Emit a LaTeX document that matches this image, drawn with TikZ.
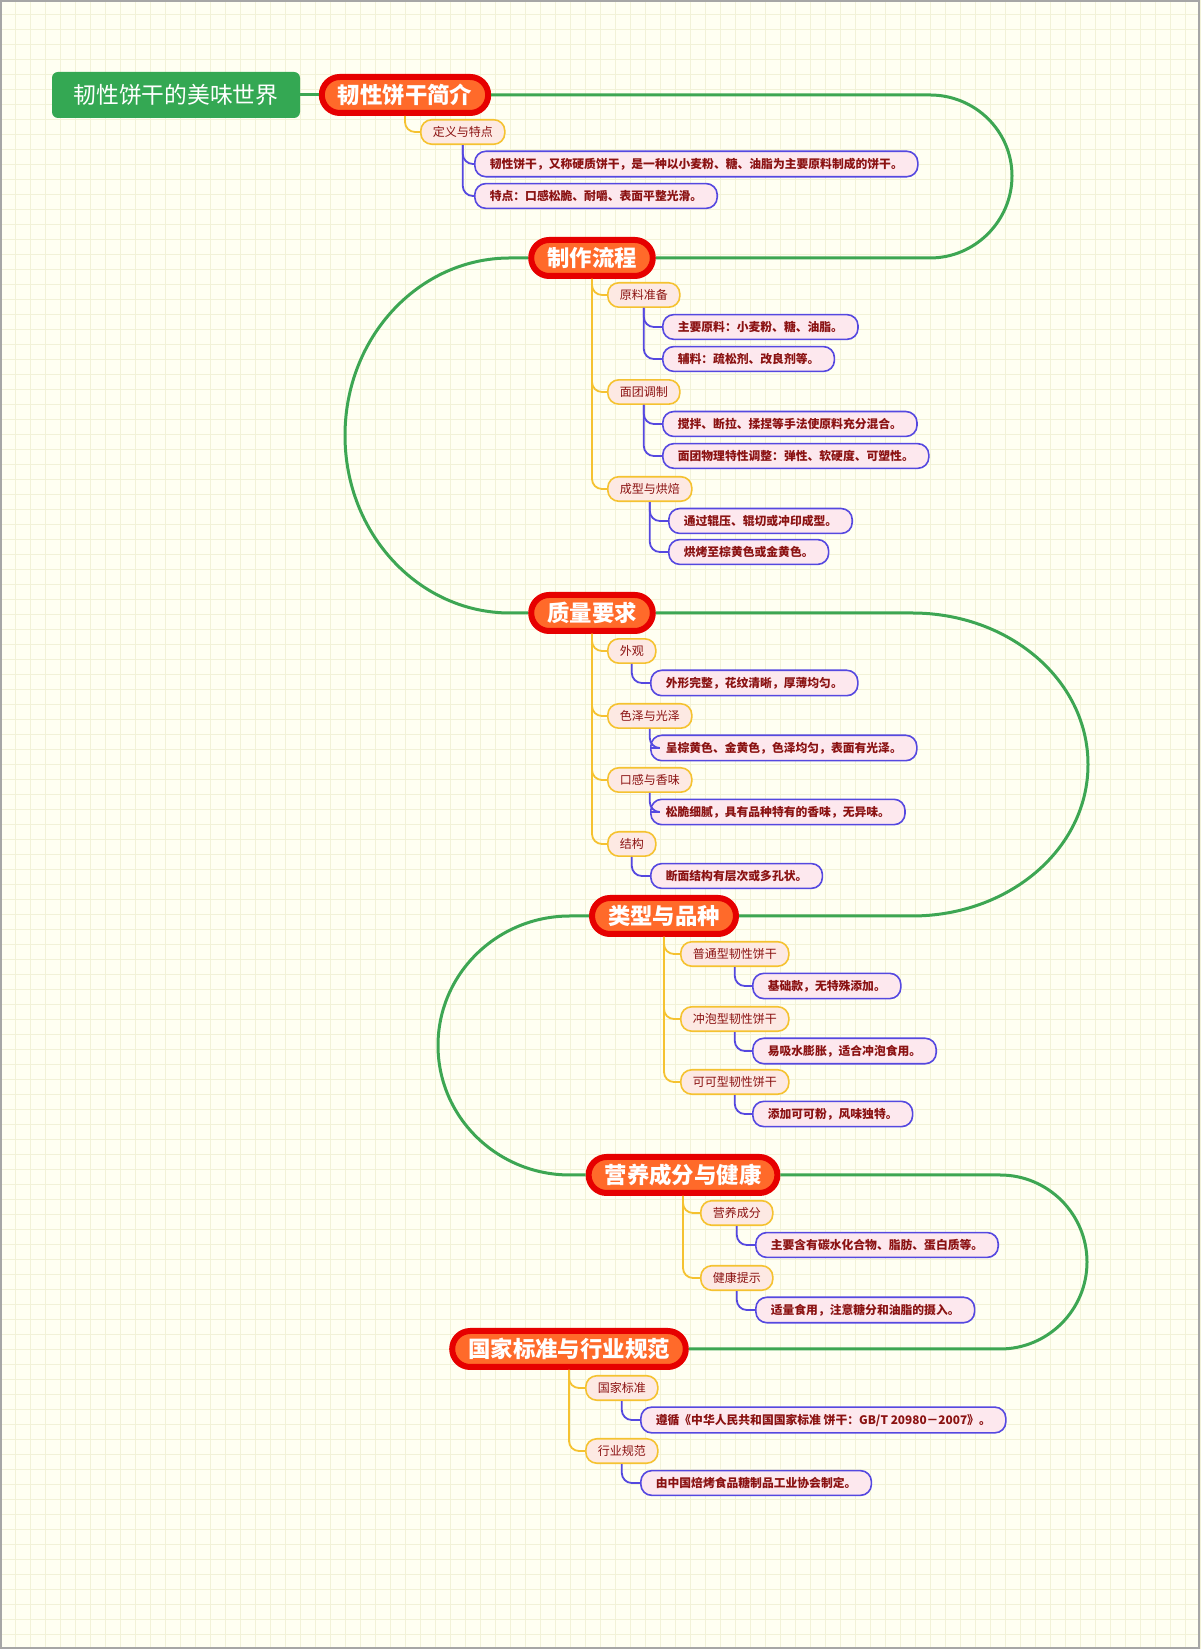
\documentclass[tikz,border=0pt]{standalone}
\usepackage{fontspec}
\setmainfont{Noto Sans CJK SC}
\usepackage{tikz}

\definecolor{bgcol}{HTML}{FFFFF2}
\definecolor{gridcol}{HTML}{F2F2D8}
\definecolor{rootgreen}{HTML}{34A853}
\definecolor{linkgreen}{HTML}{3DA653}
\definecolor{branchred}{HTML}{E60000}
\definecolor{branchorange}{HTML}{FF6A2A}
\definecolor{subyellow}{HTML}{F5C230}
\definecolor{subfill}{HTML}{FDE9E3}
\definecolor{leafblue}{HTML}{5548E0}
\definecolor{leaffill}{HTML}{FDE8EE}
\definecolor{textred}{HTML}{8B1212}

\tikzset{
  root/.style={fill=rootgreen, rounded corners=3pt, text=white, font=\fontsize{11.4}{13}\selectfont,
    minimum width=124pt, minimum height=23pt},
  branch/.style={fill=branchorange, draw=branchred, line width=3pt, rounded corners=9pt, text=white,
    font=\fontsize{11.2}{13}\selectfont\bfseries, inner xsep=8pt, minimum height=18pt},
  sub/.style={anchor=west, fill=subfill, draw=subyellow, line width=0.8pt, rounded corners=5.5pt,
    text=textred, font=\fontsize{6}{7}\selectfont, inner xsep=6pt, minimum height=11.5pt},
  leaf/.style={anchor=west, fill=leaffill, draw=leafblue, line width=0.8pt, rounded corners=5.5pt,
    text=textred, font=\fontsize{5.9}{7}\selectfont\bfseries, inner xsep=7.5pt, minimum height=12pt},
  glink/.style={draw=linkgreen, line width=1.5pt},
  ylink/.style={draw=subyellow, line width=0.9pt, rounded corners=5pt},
  blink/.style={draw=leafblue, line width=0.9pt, rounded corners=5pt}
}

\begin{document}
\begin{tikzpicture}[x=0.5pt, y=0.5pt]
  % Background and grid
  \fill[bgcol] (0,0) rectangle (1200,1649);
  \foreach \x in {15,30,...,1200} {
    \draw[gridcol, line width=0.4pt] (\x,0) -- (\x,1649);
  }
  \foreach \y in {15,30,...,1649} {
    \draw[gridcol, line width=0.4pt] (0,\y) -- (1200,\y);
  }
  \draw[gray!70, line width=0.8pt] (0.8,0.8) rectangle (1199.2,1648.2);

  \begin{scope}[yshift=824.5pt, y=-0.5pt]
  % Root and main branches
  \node[root] (root) at (176,95) {韧性饼干的美味世界};
  \node[branch] (b1) at (405,95) {韧性饼干简介};
  \node[branch] (b2) at (592,258) {制作流程};
  \node[branch] (b3) at (592,613) {质量要求};
  \node[branch] (b4) at (664,916) {类型与品种};
  \node[branch] (b5) at (683,1175) {营养成分与健康};
  \node[branch] (b6) at (569,1349) {国家标准与行业规范};

  % Green winding links
  \draw[glink] (root.east) -- (b1.west);
  \draw[glink] (b1.east) -- (930,95) .. controls (975,95) and (1012,131) .. (1012,176)
    .. controls (1012,221) and (975,258) .. (930,258) -- (b2.east);
  \draw[glink] (b2.west) -- (510,258) .. controls (419,258) and (345,337) .. (345,435.5)
    .. controls (345,534) and (419,613) .. (510,613) -- (b3.west);
  \draw[glink] (b3.east) -- (912,613) .. controls (1009,613) and (1088,680) .. (1088,764.5)
    .. controls (1088,849) and (1009,916) .. (912,916) -- (b4.east);
  \draw[glink] (b4.west) -- (570,916) .. controls (497,916) and (438,974) .. (438,1045.5)
    .. controls (438,1117) and (497,1175) .. (570,1175) -- (b5.west);
  \draw[glink] (b5.east) -- (1000,1175) .. controls (1048,1175) and (1087,1214) .. (1087,1262)
    .. controls (1087,1310) and (1048,1349) .. (1000,1349) -- (b6.east);

  % Branch 1
  \node[sub] (s11) at (420,132) {定义与特点};
  \node[leaf] (l111) at (474,164) {韧性饼干，又称硬质饼干，是一种以小麦粉、糖、油脂为主要原料制成的饼干。};
  \node[leaf] (l112) at (474,196) {特点：口感松脆、耐嚼、表面平整光滑。};

  % Branch 2
  \node[sub] (s21) at (607,295) {原料准备};
  \node[leaf] (l211) at (662,327) {主要原料：小麦粉、糖、油脂。};
  \node[leaf] (l212) at (662,359) {辅料：疏松剂、改良剂等。};
  \node[sub] (s22) at (607,392) {面团调制};
  \node[leaf] (l221) at (662,424) {搅拌、断拉、揉捏等手法使原料充分混合。};
  \node[leaf] (l222) at (662,456) {面团物理特性调整：弹性、软硬度、可塑性。};
  \node[sub] (s23) at (607,489) {成型与烘焙};
  \node[leaf] (l231) at (668,521) {通过辊压、辊切或冲印成型。};
  \node[leaf] (l232) at (668,552) {烘烤至棕黄色或金黄色。};

  % Branch 3
  \node[sub] (s31) at (607,651) {外观};
  \node[leaf] (l311) at (650,683) {外形完整，花纹清晰，厚薄均匀。};
  \node[sub] (s32) at (607,716) {色泽与光泽};
  \node[leaf] (l321) at (650,748) {呈棕黄色、金黄色，色泽均匀，表面有光泽。};
  \node[sub] (s33) at (607,780) {口感与香味};
  \node[leaf] (l331) at (650,812) {松脆细腻，具有品种特有的香味，无异味。};
  \node[sub] (s34) at (607,844) {结构};
  \node[leaf] (l341) at (650,876) {断面结构有层次或多孔状。};

  % Branch 4
  \node[sub] (s41) at (680,954) {普通型韧性饼干};
  \node[leaf] (l411) at (752,986) {基础款，无特殊添加。};
  \node[sub] (s42) at (680,1019) {冲泡型韧性饼干};
  \node[leaf] (l421) at (752,1051) {易吸水膨胀，适合冲泡食用。};
  \node[sub] (s43) at (680,1082) {可可型韧性饼干};
  \node[leaf] (l431) at (752,1114) {添加可可粉，风味独特。};

  % Branch 5
  \node[sub] (s51) at (700,1213) {营养成分};
  \node[leaf] (l511) at (755,1245) {主要含有碳水化合物、脂肪、蛋白质等。};
  \node[sub] (s52) at (700,1278) {健康提示};
  \node[leaf] (l521) at (755,1310) {适量食用，注意糖分和油脂的摄入。};

  % Branch 6
  \node[sub] (s61) at (585,1388) {国家标准};
  \node[leaf] (l611) at (640,1420) {遵循《中华人民共和国国家标准 饼干：GB/T 20980－2007》。};
  \node[sub] (s62) at (585,1451) {行业规范};
  \node[leaf] (l621) at (640,1483) {由中国焙烤食品糖制品工业协会制定。};

  % Yellow links: branch to subtopic
  \foreach \b/\s in {b1/s11, b2/s21, b2/s22, b2/s23, b3/s31, b3/s32, b3/s33, b3/s34,
                     b4/s41, b4/s42, b4/s43, b5/s51, b5/s52, b6/s61, b6/s62} {
    \draw[ylink] (\b.south) |- (\s.west);
  }

  % Blue links: subtopic to leaf
  \foreach \s/\l in {s11/l111, s11/l112, s21/l211, s21/l212, s22/l221, s22/l222, s23/l231, s23/l232,
                     s31/l311, s32/l321, s33/l331, s34/l341, s41/l411, s42/l421, s43/l431,
                     s51/l511, s52/l521, s61/l611, s62/l621} {
    \draw[blink] (\s.south) |- (\l.west);
  }
  \end{scope}
  \pgfresetboundingbox
  \path[use as bounding box] (0,0) rectangle (1200,1649);
\end{tikzpicture}
\end{document}
